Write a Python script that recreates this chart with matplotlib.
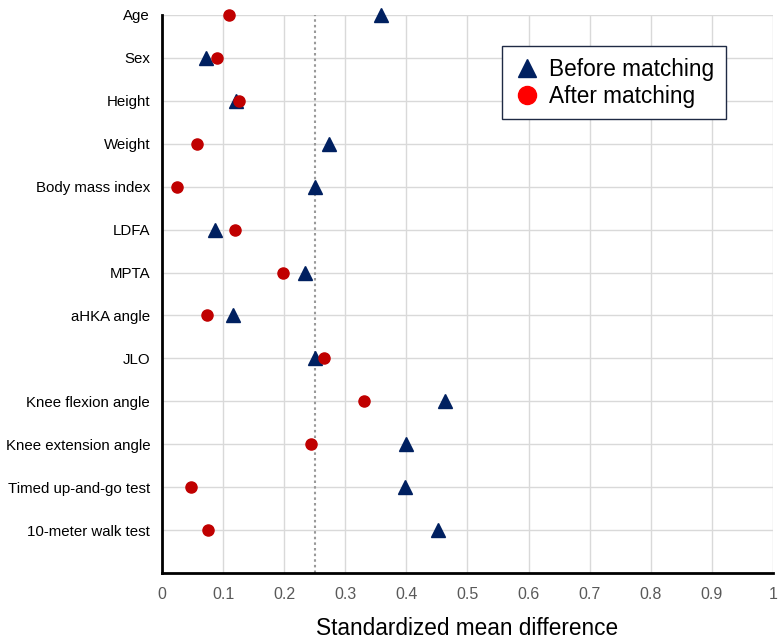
import matplotlib.pyplot as plt
from matplotlib.lines import Line2D

plt.rcParams['font.family'] = ['Liberation Sans', 'DejaVu Sans']

variables = ["Age", "Sex", "Height", "Weight", "Body mass index", "LDFA", "MPTA",
             "aHKA angle", "JLO", "Knee flexion angle", "Knee extension angle",
             "Timed up-and-go test", "10-meter walk test"]
before = [0.358, 0.072, 0.121, 0.273, 0.250, 0.086, 0.234, 0.117, 0.251, 0.464, 0.400, 0.397, 0.452]
after = [0.109, 0.090, 0.126, 0.058, 0.025, 0.119, 0.198, 0.074, 0.265, 0.330, 0.244, 0.048, 0.075]
threshold = 0.25
xticks = [0, 0.1, 0.2, 0.3, 0.4, 0.5, 0.6, 0.7, 0.8, 0.9, 1]
xticklabels = ["0", "0.1", "0.2", "0.3", "0.4", "0.5", "0.6", "0.7", "0.8", "0.9", "1"]

navy = "#002060"
red = "#C00000"

fig = plt.figure(figsize=(7.78, 6.41), dpi=100)
ax = fig.add_axes([0.2082, 0.106, 0.7853, 0.8706])

ypos = list(range(len(variables)))
ax.plot(before, ypos, linestyle="none", marker="^", markersize=10, color=navy, clip_on=False, zorder=3)
ax.plot(after, ypos, linestyle="none", marker="o", markersize=8, color=red, clip_on=False, zorder=4)

# 0.25 threshold
ax.axvline(threshold, color="#999999", linestyle=(0, (1.2, 1.5)), linewidth=1.5, zorder=2)

ax.set_xlim(0, 1)
ax.set_ylim(len(variables), 0)
ax.set_xticks(xticks)
ax.set_xticklabels(xticklabels, color="#595959", fontsize=11.5)
ax.set_yticks(ypos)
ax.set_yticklabels(variables, fontsize=10.8)
ax.tick_params(length=0)
ax.tick_params(axis="y", pad=8.5)
ax.tick_params(axis="x", pad=10)

ax.grid(True, color="#D9D9D9", linewidth=1)
ax.set_axisbelow(True)
for s in ["top", "right"]:
    ax.spines[s].set_visible(False)
for s in ["left", "bottom"]:
    ax.spines[s].set_linewidth(2)
    ax.spines[s].set_color("black")

ax.set_xlabel("Standardized mean difference", fontsize=16.3, labelpad=11)

handles = [
    Line2D([], [], linestyle="none", marker="^", markersize=13, color=navy, label="Before matching"),
    Line2D([], [], linestyle="none", marker="o", markersize=13, color="#FF0000", label="After matching"),
]
leg = ax.legend(handles=handles, loc="upper left", bbox_to_anchor=(0.556, 0.944),
                borderaxespad=0, fontsize=16.3, frameon=True, fancybox=False, framealpha=1,
                edgecolor="#1F2A44", handletextpad=0.4, borderpad=0.5,
                labelspacing=0.2, handlelength=1.2)
leg.get_frame().set_linewidth(1)

fig.savefig("out.png", dpi=100)
